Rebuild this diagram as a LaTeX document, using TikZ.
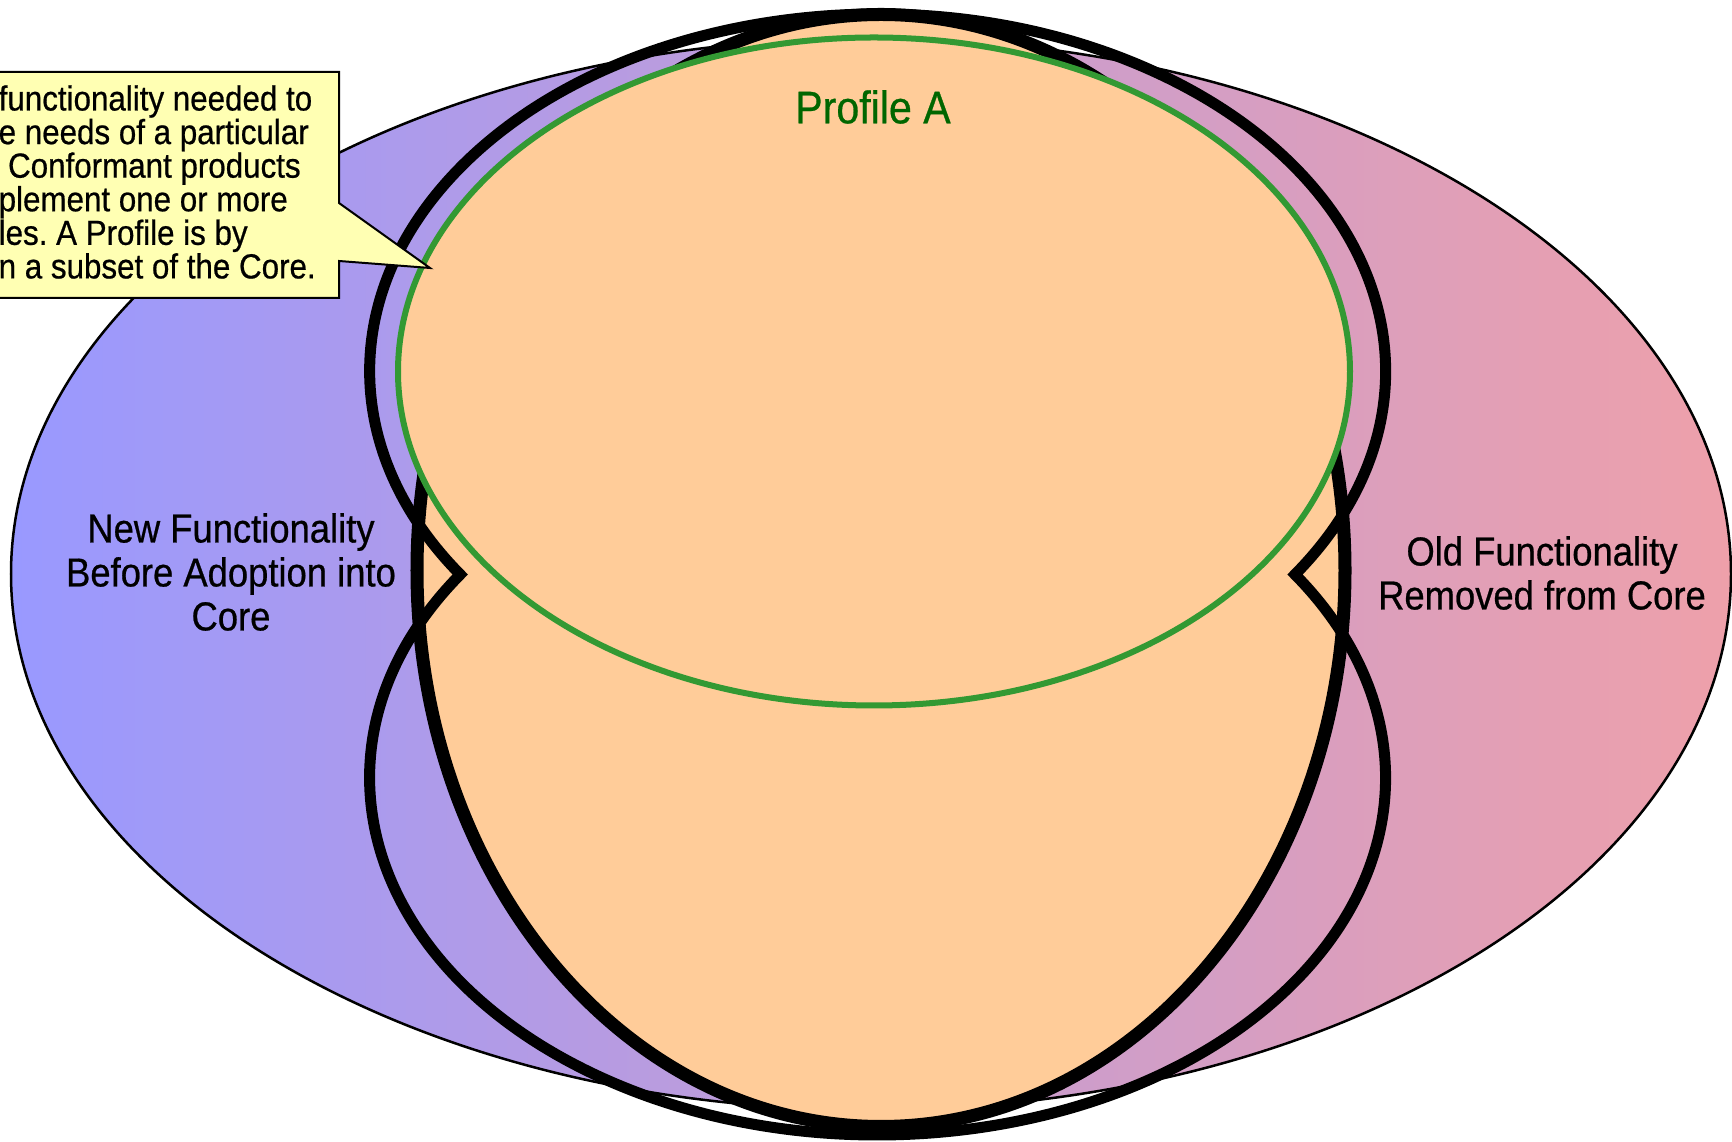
\documentclass[tikz,border=0pt]{standalone}
\usepackage{fontspec}
\setmainfont{Liberation Sans}
\newfontfamily\narrowsans[FakeStretch=0.9,FakeBold=0.6]{Liberation Sans}
\definecolor{newblue}{RGB}{153,153,255}
\definecolor{oldpink}{RGB}{238,160,170}
\definecolor{corefill}{RGB}{255,204,153}
\definecolor{profgreen}{RGB}{51,153,51}
\definecolor{proftext}{RGB}{0,102,0}
\definecolor{notefill}{RGB}{255,255,179}
\frenchspacing

\begin{document}
\begin{tikzpicture}[x=0.01cm,y=0.01cm,
  coreline/.style={line width=1.3mm},
  peanut/.style={line width=1.1mm,line join=miter},
  sidelabel/.style={align=center,font=\narrowsans\fontsize{11.5}{12.5}\selectfont}]
\useasboundingbox (0,0) rectangle (1732,1142);
% all functionality
\shadedraw[left color=newblue,right color=oldpink,draw=black,line width=0.25mm]
  (871,568) ellipse [x radius=860, y radius=536];
% core
\draw[coreline,fill=corefill] (881,571.5) ellipse [x radius=464, y radius=556];
% outline made of two overlapping ellipses
\draw[peanut] (1295,567.5)
  arc [start angle=-34.75, end angle=214.75, x radius=508, y radius=357]
  arc [start angle=145.25, end angle=394.75, x radius=508, y radius=357] -- cycle;
% profile
\draw[profgreen,fill=corefill,line width=0.6mm] (874,770.5) ellipse [x radius=476, y radius=334];
\node[proftext,font=\narrowsans\fontsize{13}{15}\selectfont] (profile) at (873,1035) {Profile A};
\node[sidelabel] (newfunc) at (231,570) {New Functionality\\Before Adoption into\\Core};
\node[sidelabel] (oldfunc) at (1542,569) {Old Functionality\\Removed from Core};
% note
\draw[fill=notefill,line width=0.2mm] (-20,1070) -- (339,1070) -- (339,939) -- (430,874)
  -- (339,881) -- (339,844) -- (-20,844) -- cycle;
\node[anchor=west,inner sep=0pt,align=left,font=\narrowsans\fontsize{9.9}{9.55}\selectfont] (note) at (-2,960)
  {functionality needed to\\e needs of a particular\\\hspace*{0.27em}Conformant products\\plement one or more\\les. A Profile is by\\n a subset of the Core.};
\end{tikzpicture}
\end{document}
